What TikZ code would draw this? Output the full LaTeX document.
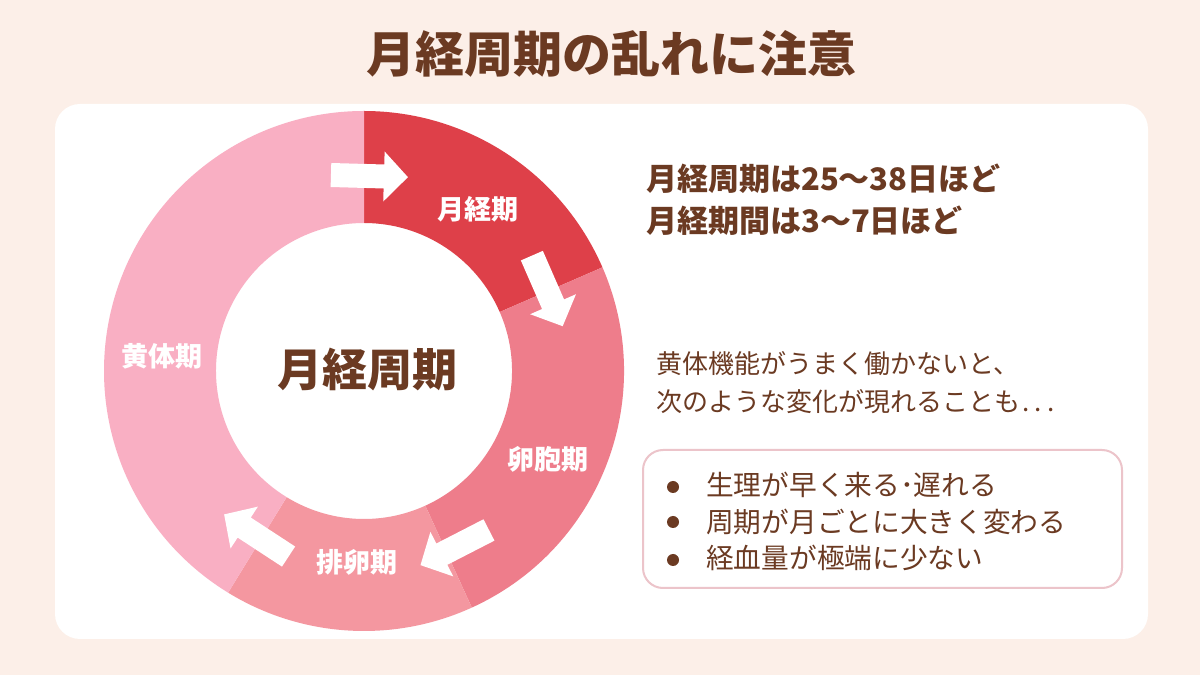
\documentclass[tikz,border=0pt]{standalone}
\usepackage{fontspec}
\setmainfont{Noto Sans CJK JP}
\definecolor{bgc}{RGB}{252,239,232}
\definecolor{brn}{RGB}{107,58,34}
\definecolor{segA}{RGB}{222,64,73}
\definecolor{segB}{RGB}{238,125,139}
\definecolor{segC}{RGB}{244,151,160}
\definecolor{segD}{RGB}{249,175,195}
\definecolor{boxln}{RGB}{236,196,202}
\begin{document}
\begin{tikzpicture}[x=1pt,y=1pt,
  title/.style={text=brn,font=\bfseries\fontsize{49pt}{49pt}\selectfont,inner sep=0pt,anchor=base},
  seglabel/.style={text=white,font=\bfseries\fontsize{27pt}{27pt}\selectfont,inner sep=0pt,anchor=base},
  centertxt/.style={text=brn,font=\bfseries\fontsize{45pt}{45pt}\selectfont,inner sep=0pt,anchor=base},
  boldline/.style={text=brn,font=\bfseries\fontsize{31pt}{31pt}\selectfont,inner sep=0pt,anchor=base west},
  plainline/.style={text=brn,font=\fontsize{26pt}{26pt}\selectfont,inner sep=0pt,anchor=base west},
  listline/.style={text=brn,font=\fontsize{27.7pt}{27.7pt}\selectfont,inner sep=0pt,anchor=base west},
  bulletdot/.style={circle,fill=brn,minimum size=12pt,inner sep=0pt},
  blockarrow/.style={fill=white}
]
\useasboundingbox (0,0) rectangle (1200,675);
\fill[bgc] (0,0) rectangle (1200,675);
% white panel
\fill[white,rounded corners=25pt] (55,36) rectangle (1148,571);
% title
\node[title] (title) at (611,602) {月経周期の乱れに注意};
% donut
\coordinate (C) at (364,304);
\begin{scope}[shift={(C)}]
\fill[segA] (23.5:260) arc[start angle=23.5,end angle=90,radius=260] -- (90:148) arc[start angle=90,end angle=23.5,radius=148] -- cycle;
\fill[segB] (-65.5:260) arc[start angle=-65.5,end angle=23.5,radius=260] -- (23.5:148) arc[start angle=23.5,end angle=-65.5,radius=148] -- cycle;
\fill[segC] (-121.5:260) arc[start angle=-121.5,end angle=-65.5,radius=260] -- (-65.5:148) arc[start angle=-65.5,end angle=-121.5,radius=148] -- cycle;
\fill[segD] (90:260) arc[start angle=90,end angle=238.5,radius=260] -- (238.5:148) arc[start angle=238.5,end angle=90,radius=148] -- cycle;
% arrows (tangent, clockwise)
\foreach \ang/\rad in {88.4/195, 23.6/200, -62.8/198.5, 236.8/196.6}{
  \fill[blockarrow,rotate=\ang] (\rad-12,38.5) -- (\rad+12,38.5) -- (\rad+12,-14.5) -- (\rad+25,-14.5) -- (\rad,-38.5) -- (\rad-25,-14.5) -- (\rad-12,-14.5) -- cycle;
}
\end{scope}
% segment labels
\node[seglabel] (lA) at (478,455) {月経期};
\node[seglabel] (lB) at (548,205) {卵胞期};
\node[seglabel] (lC) at (357,102) {排卵期};
\node[seglabel] (lD) at (162,308) {黄体期};
\node[centertxt] (ctr) at (367,288) {月経周期};
% right texts
\node[boldline] (r1) at (646,484) {月経周期は25〜38日ほど};
\node[boldline] (r2) at (646,442.5) {月経期間は3〜7日ほど};
\node[plainline] (p1) at (656,301) {黄体機能がうまく働かないと、};
\node[plainline] (p2) at (656,263) {次のような変化が現れることも\kern2pt.\kern5.5pt.\kern5.5pt.};
% box
\draw[boxln,line width=2pt,fill=white,rounded corners=20pt] (643,87) rectangle (1122,225);
\node[bulletdot] (b1) at (673,188) {};
\node[bulletdot] (b2) at (673,153) {};
\node[bulletdot] (b3) at (673,115) {};
\node[listline] (t1) at (706,179.5) {生理が早く来る･遅れる};
\node[listline] (t2) at (706,142.5) {周期が月ごとに大きく変わる};
\node[listline] (t3) at (706,106.5) {経血量が極端に少ない};
\end{tikzpicture}
\end{document}
